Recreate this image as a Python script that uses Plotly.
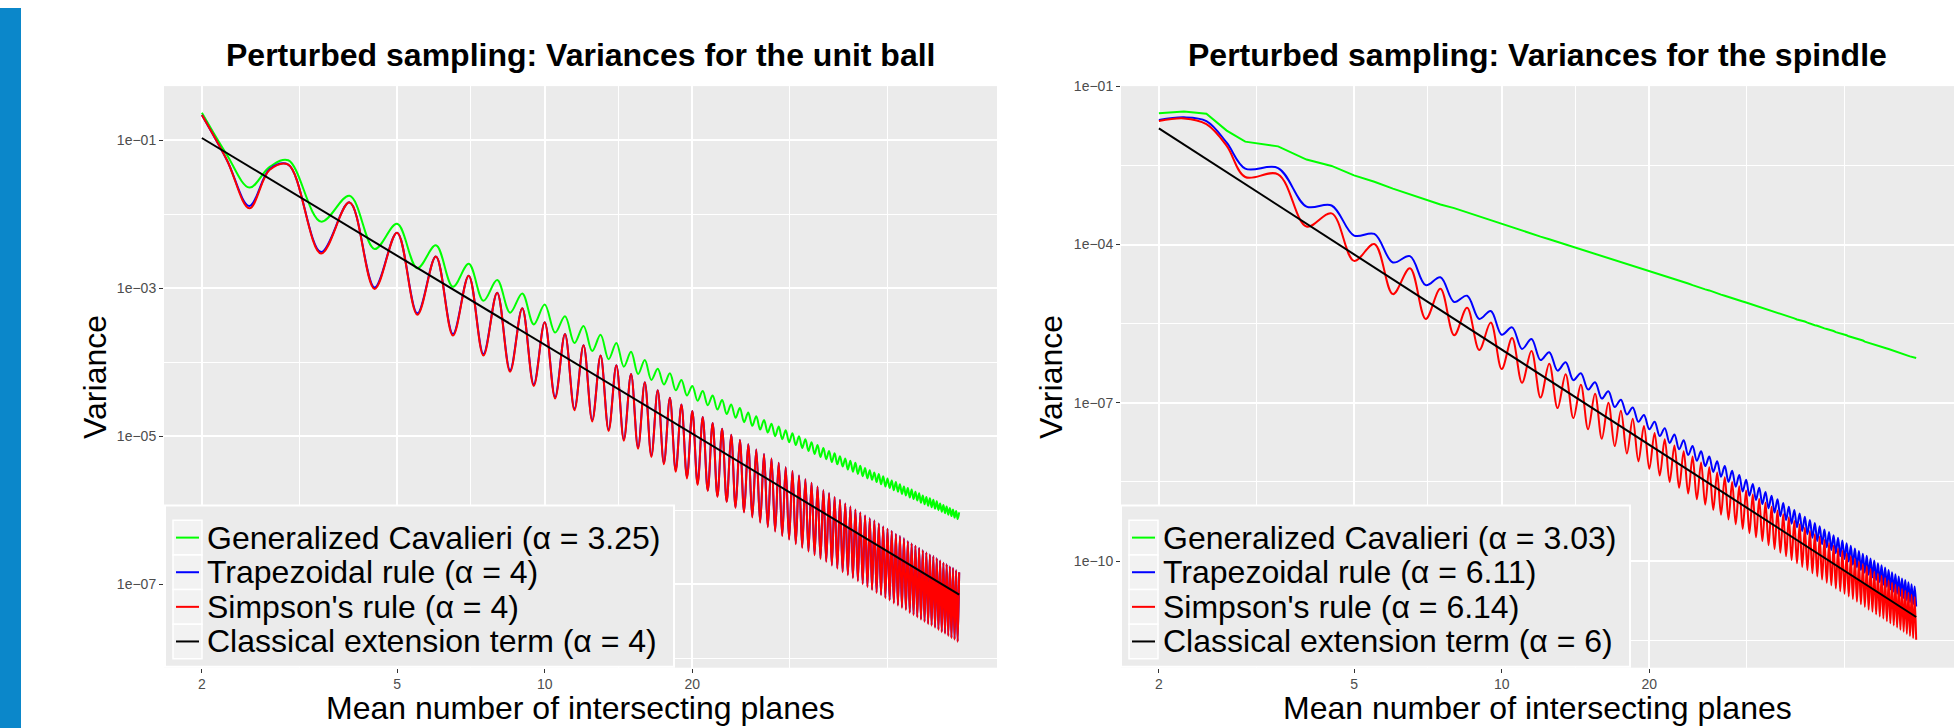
import plotly.graph_objects as go

W, H = 1960, 728

# x grid: mean number of intersecting planes
x_planes = [2, 2.25, 2.5, 2.75] + [3 + 0.5 * i for i in range(135)]

# ---- values, stored as 100*log10(variance) ----
# Unit ball
cavalieri_ball = [
    -63, -120, -164, -136, -127, -210, -175, -247, -213, -273, -242, -298, -267, -317, -289, -333, -307, -349,
    -322, -360, -338, -374, -351, -385, -363, -396, -374, -406, -386, -416, -397, -424, -409, -430, -415, -438, -424, -445,
    -432, -452, -439, -458, -445, -464, -451, -470, -457, -475, -462, -481, -468, -486, -473, -491, -478, -495, -483, -500,
    -487, -504, -492, -508, -496, -512, -500, -516, -504, -520, -508, -524, -512, -528, -516, -531, -520, -535, -523, -538,
    -527, -541, -530, -545, -533, -548, -536, -551, -540, -554, -543, -557, -546, -559, -549, -562, -551, -565, -554, -568,
    -557, -570, -560, -573, -562, -575, -565, -578, -568, -580, -570, -583, -572, -585, -575, -587, -577, -590, -580, -592,
    -582, -594, -584, -596, -586, -598, -588, -600, -591, -602, -593, -604, -595, -606, -597, -608, -599, -610, -601, -612,
    -603]
trapezoidal_ball = [
    -66, -127, -189, -139, -133, -251, -184, -299, -225, -334, -257, -362, -283, -389, -306, -411, -327, -430,
    -346, -447, -362, -463, -377, -478, -391, -491, -404, -504, -416, -515, -427, -526, -438, -536, -448, -546, -457, -555,
    -466, -564, -474, -573, -482, -581, -490, -588, -498, -596, -505, -602, -511, -609, -518, -616, -524, -622, -530, -628,
    -536, -634, -542, -639, -547, -645, -553, -650, -558, -655, -563, -660, -568, -665, -573, -669, -577, -674, -582, -678,
    -586, -683, -591, -687, -595, -691, -599, -695, -603, -699, -607, -703, -611, -707, -614, -711, -618, -714, -622, -718,
    -625, -721, -628, -725, -632, -728, -635, -731, -638, -734, -642, -738, -645, -741, -648, -744, -651, -747, -654, -750,
    -657, -753, -660, -755, -662, -758, -665, -761, -668, -764, -671, -766, -673, -769, -676, -772, -678, -774, -681, -777,
    -684]
simpson_ball = [
    -66, -127, -192, -140, -133, -253, -184, -301, -225, -336, -257, -364, -283, -391, -306, -413, -327, -432,
    -346, -449, -362, -465, -377, -480, -391, -493, -404, -506, -416, -517, -427, -528, -438, -538, -448, -548, -457, -557,
    -466, -566, -474, -574, -482, -582, -490, -589, -498, -597, -505, -603, -511, -610, -518, -617, -524, -623, -530, -629,
    -536, -635, -542, -640, -547, -646, -553, -651, -558, -656, -563, -661, -568, -666, -573, -670, -577, -675, -582, -679,
    -586, -684, -591, -688, -595, -692, -599, -696, -603, -700, -607, -704, -611, -708, -614, -712, -618, -715, -622, -719,
    -625, -722, -628, -726, -632, -729, -635, -732, -638, -735, -642, -739, -645, -742, -648, -745, -651, -748, -654, -751,
    -657, -754, -660, -756, -662, -759, -665, -762, -668, -765, -671, -767, -673, -770, -676, -773, -678, -775, -681, -778,
    -684]
# Spindle
cavalieri_spindle = [
    -151, -148, -152, -184, -205, -214, -239, -251, -269, -281, -294, -305, -316, -324, -331, -339, -347, -355,
    -362, -368, -374, -380, -385, -390, -395, -400, -405, -409, -413, -418, -422, -426, -429, -433, -437, -440, -443, -447,
    -450, -453, -457, -460, -463, -466, -468, -471, -474, -477, -480, -482, -485, -487, -490, -492, -495, -497, -499, -501,
    -504, -506, -508, -510, -512, -514, -516, -518, -520, -522, -524, -526, -528, -529, -531, -533, -535, -536, -538, -540,
    -542, -543, -545, -546, -548, -550, -551, -553, -554, -556, -557, -559, -560, -561, -563, -564, -566, -567, -568, -570,
    -571, -572, -574, -575, -576, -578, -579, -580, -581, -582, -584, -585, -586, -587, -588, -590, -591, -592, -593, -594,
    -595, -596, -597, -598, -599, -601, -602, -603, -604, -605, -606, -607, -608, -609, -610, -611, -612, -613, -614, -615,
    -615]
trapezoidal_spindle = [
    -164, -159, -166, -207, -256, -255, -328, -326, -383, -380, -434, -422, -477, -462, -509, -497, -541, -526,
    -571, -557, -598, -579, -619, -604, -639, -623, -657, -644, -675, -661, -692, -678, -708, -694, -722, -709, -736, -723,
    -750, -736, -763, -748, -776, -760, -788, -771, -799, -782, -810, -792, -820, -802, -831, -811, -840, -820, -850, -829,
    -859, -837, -868, -846, -876, -854, -884, -861, -892, -869, -900, -876, -908, -883, -915, -890, -922, -897, -929, -903,
    -936, -910, -943, -916, -949, -922, -956, -928, -962, -934, -968, -940, -974, -945, -979, -951, -985, -956, -991, -961,
    -996, -966, -1001, -971, -1007, -976, -1012, -981, -1017, -986, -1022, -990, -1026, -995, -1031, -999, -1036, -1004, -1040, -1008,
    -1045, -1012, -1049, -1017, -1054, -1021, -1058, -1025, -1062, -1029, -1066, -1033, -1070, -1036, -1074, -1040, -1078, -1044, -1082, -1048,
    -1086]
simpson_spindle = [
    -166, -161, -172, -213, -272, -267, -366, -341, -431, -399, -494, -445, -541, -484, -572, -520, -600, -548,
    -636, -577, -662, -602, -690, -626, -710, -646, -729, -666, -750, -683, -768, -700, -782, -715, -796, -730, -811, -744,
    -825, -757, -838, -769, -850, -781, -861, -792, -872, -802, -883, -813, -893, -822, -903, -832, -912, -841, -921, -850,
    -930, -858, -939, -866, -947, -874, -955, -882, -962, -889, -970, -897, -977, -904, -984, -911, -991, -917, -998, -924,
    -1004, -930, -1011, -937, -1017, -943, -1023, -949, -1029, -954, -1035, -960, -1041, -966, -1046, -971, -1052, -976, -1057, -981,
    -1062, -986, -1067, -991, -1072, -996, -1077, -1001, -1082, -1006, -1087, -1010, -1092, -1015, -1096, -1020, -1101, -1024, -1105, -1028,
    -1109, -1032, -1114, -1037, -1118, -1041, -1122, -1045, -1126, -1049, -1130, -1053, -1134, -1056, -1138, -1060, -1142, -1064, -1146, -1068,
    -1149]
# classical extension term (straight line in log-log): end points
classic_x = [2, 70]
classic_ball = [-97, -714]
classic_spindle = [-180, -1106]

for s in (cavalieri_ball, trapezoidal_ball, simpson_ball,
          cavalieri_spindle, trapezoidal_spindle, simpson_spindle):
    assert len(s) == len(x_planes), len(s)

labels_ball = ["Generalized Cavalieri (α = 3.25)", "Trapezoidal rule (α = 4)",
               "Simpson's rule (α = 4)", "Classical extension term (α = 4)"]
labels_spindle = ["Generalized Cavalieri (α = 3.03)", "Trapezoidal rule (α = 6.11)",
                  "Simpson's rule (α = 6.14)", "Classical extension term (α = 6)"]
colors = ["#00FF00", "#0000FF", "#FF0000", "#000000"]

titles = ["Perturbed sampling: Variances for the unit ball",
          "Perturbed sampling: Variances for the spindle"]
x_title = "Mean number of intersecting planes"
y_title = "Variance"

FONT = "Liberation Sans, Arial, sans-serif"


def lin(vals):
    return [10 ** (v / 100.0) for v in vals]


def fx(p):
    return p / W


def fy(p):
    return 1 - p / H


fig = go.Figure()

panels = [
    ("x", "y", [cavalieri_ball, trapezoidal_ball, simpson_ball], classic_ball),
    ("x2", "y2", [cavalieri_spindle, trapezoidal_spindle, simpson_spindle], classic_spindle),
]
for xa, ya, series, classic in panels:
    for k, s in enumerate(series):
        shape = "spline"
        if xa == "x2" and k == 0:
            shape = "linear"
        fig.add_trace(go.Scatter(x=x_planes, y=lin(s), mode="lines", xaxis=xa, yaxis=ya,
                                 line=dict(color=colors[k], width=2, shape=shape),
                                 showlegend=False, hoverinfo="skip"))
    fig.add_trace(go.Scatter(x=classic_x, y=lin(classic), mode="lines", xaxis=xa, yaxis=ya,
                             line=dict(color=colors[3], width=2), showlegend=False, hoverinfo="skip"))

tickfont = dict(family=FONT, size=14, color="#4D4D4D")


def xaxis_cfg(x0, x1, anchor):
    return dict(type="log", domain=[fx(x0), fx(x1)], range=[0.2238, 1.9222], anchor=anchor,
                showline=False, zeroline=False, showgrid=True, gridcolor="white", gridwidth=2,
                tickmode="array", tickvals=[2, 5, 10, 20], ticktext=["2", "5", "10", "20"],
                ticks="outside", ticklen=4, tickwidth=1, tickcolor="#333333", tickfont=tickfont,
                minor=dict(tickmode="array", tickvals=[3.1623, 7.0711, 14.142, 31.623, 50],
                           showgrid=True, gridcolor="white", gridwidth=1, ticks=""))


def yaxis_cfg(rng, vals, texts, minors, anchor):
    return dict(type="log", domain=[fy(667), fy(79)], range=rng, anchor=anchor,
                showline=False, zeroline=False, showgrid=True, gridcolor="white", gridwidth=2,
                tickmode="array", tickvals=vals, ticktext=texts,
                ticks="outside", ticklen=4, tickwidth=1, tickcolor="#333333", tickfont=tickfont,
                minor=dict(tickmode="array", tickvals=minors,
                           showgrid=True, gridcolor="white", gridwidth=1, ticks=""))


xa1 = xaxis_cfg(164, 997, "y")
xa2 = xaxis_cfg(1121, 1954, "y2")

ya1 = yaxis_cfg([-8.128, -0.269], [1e-1, 1e-3, 1e-5, 1e-7],
                ["1e\u221201", "1e\u221203", "1e\u221205", "1e\u221207"],
                [1e-2, 1e-4, 1e-6, 1e-8], "x")
ya2 = yaxis_cfg([-12.02, -0.998], [1e-1, 1e-4, 1e-7, 1e-10],
                ["1e\u221201", "1e\u221204", "1e\u221207", "1e\u221210"],
                [10 ** -2.5, 10 ** -5.5, 10 ** -8.5, 10 ** -11.5], "x2")

annotations = []
shapes = []

# left blue bar
shapes.append(dict(type="rect", xref="paper", yref="paper", x0=0, x1=fx(21), y0=0, y1=1,
                   fillcolor="#0B87CA", line=dict(width=0), layer="below"))

for cx, vx, title in [(580.5, 95, titles[0]), (1537.5, 1051, titles[1])]:
    annotations.append(dict(text="<b>" + title + "</b>", x=fx(cx), y=fy(48), xref="paper", yref="paper",
                            xanchor="center", yanchor="middle", showarrow=False,
                            font=dict(family=FONT, size=32, color="black")))
    annotations.append(dict(text=x_title, x=fx(cx), y=fy(708), xref="paper", yref="paper",
                            xanchor="center", yanchor="middle", showarrow=False, borderpad=0,
                            font=dict(family=FONT, size=32, color="black")))
    annotations.append(dict(text=y_title, x=fx(vx), y=fy(373), xref="paper", yref="paper",
                            xanchor="center", yanchor="middle", showarrow=False, textangle=-90,
                            font=dict(family=FONT, size=32, color="black")))

# legends (drawn as boxes, keys and labels)
for lx, labels in [(165, labels_ball), (1121, labels_spindle)]:
    shapes.append(dict(type="rect", xref="paper", yref="paper", x0=fx(lx), x1=fx(lx + 509),
                       y0=fy(666), y1=fy(503), fillcolor="#EBEBEB", line=dict(color="white", width=2)))
    for k, lab in enumerate(labels):
        top = 518 + 35 * k
        shapes.append(dict(type="rect", xref="paper", yref="paper", x0=fx(lx + 8), x1=fx(lx + 37),
                           y0=fy(top + 35), y1=fy(top), fillcolor="#F2F2F2",
                           line=dict(color="white", width=1.5)))
        shapes.append(dict(type="line", xref="paper", yref="paper", x0=fx(lx + 11), x1=fx(lx + 34),
                           y0=fy(top + 17.5), y1=fy(top + 17.5), line=dict(color=colors[k], width=2)))
        annotations.append(dict(text=lab, x=fx(lx + 41), y=fy(top + 17.5), xref="paper", yref="paper",
                                xanchor="left", yanchor="middle", showarrow=False, borderpad=0,
                                font=dict(family=FONT, size=32, color="black")))

fig.update_layout(
    width=W, height=H, margin=dict(l=0, r=0, t=0, b=0),
    paper_bgcolor="white", plot_bgcolor="#EBEBEB", showlegend=False,
    xaxis=xa1, yaxis=ya1, xaxis2=xa2, yaxis2=ya2,
    annotations=annotations, shapes=shapes,
)

fig.write_html(
    "out.html",
    config={"displayModeBar": False, "staticPlot": True},
    post_script="document.body.style.margin='0px';document.body.style.padding='0px';"
                "document.body.style.overflow='hidden';"
                "document.documentElement.style.overflow='hidden';",
)
